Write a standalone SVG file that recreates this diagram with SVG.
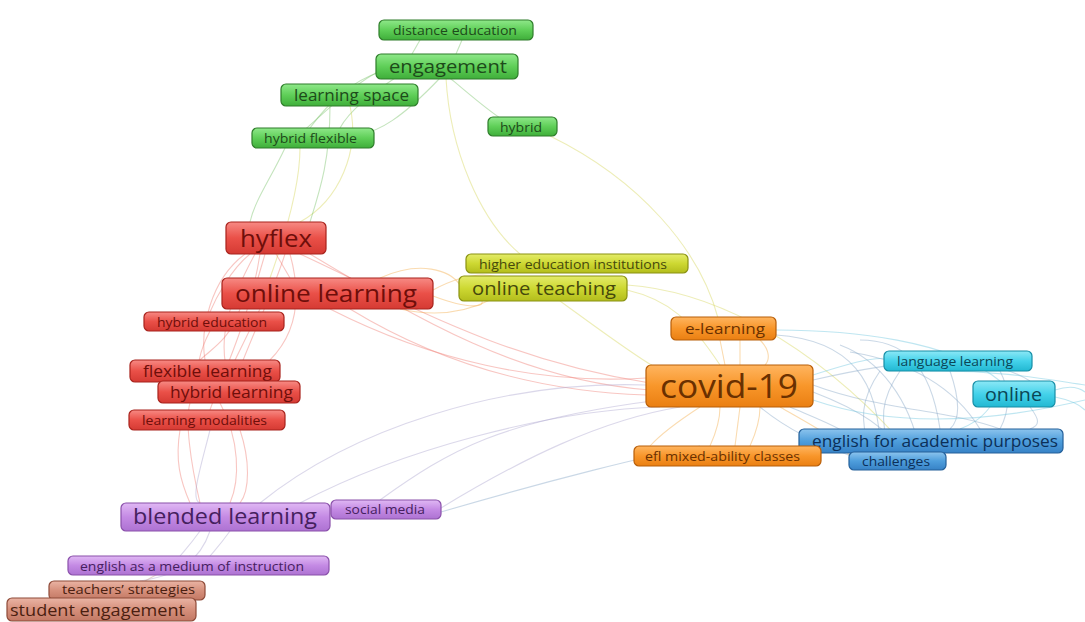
<svg xmlns="http://www.w3.org/2000/svg" width="1085" height="622" viewBox="0 0 1085 622">
<defs>
<linearGradient id="gG" x1="0" y1="0" x2="0" y2="1"><stop offset="0" stop-color="#8fe88a"/><stop offset="0.5" stop-color="#5fcf58"/><stop offset="1" stop-color="#3fae3a"/></linearGradient>
<linearGradient id="gR" x1="0" y1="0" x2="0" y2="1"><stop offset="0" stop-color="#f78a84"/><stop offset="0.5" stop-color="#ea5048"/><stop offset="1" stop-color="#d53a33"/></linearGradient>
<linearGradient id="gY" x1="0" y1="0" x2="0" y2="1"><stop offset="0" stop-color="#e4ec6a"/><stop offset="0.5" stop-color="#cdd832"/><stop offset="1" stop-color="#b3bd1c"/></linearGradient>
<linearGradient id="gO" x1="0" y1="0" x2="0" y2="1"><stop offset="0" stop-color="#ffb560"/><stop offset="0.5" stop-color="#f8962a"/><stop offset="1" stop-color="#ea7f12"/></linearGradient>
<linearGradient id="gC" x1="0" y1="0" x2="0" y2="1"><stop offset="0" stop-color="#8ce8f6"/><stop offset="0.5" stop-color="#44d2ea"/><stop offset="1" stop-color="#22b8d2"/></linearGradient>
<linearGradient id="gB" x1="0" y1="0" x2="0" y2="1"><stop offset="0" stop-color="#8cc4ee"/><stop offset="0.5" stop-color="#4e9edc"/><stop offset="1" stop-color="#3782c6"/></linearGradient>
<linearGradient id="gP" x1="0" y1="0" x2="0" y2="1"><stop offset="0" stop-color="#e0b8f4"/><stop offset="0.5" stop-color="#c48ae4"/><stop offset="1" stop-color="#ad72d2"/></linearGradient>
<linearGradient id="gS" x1="0" y1="0" x2="0" y2="1"><stop offset="0" stop-color="#eab4a4"/><stop offset="0.5" stop-color="#d6907c"/><stop offset="1" stop-color="#c27864"/></linearGradient>
</defs>
<style>
text{font-family:"Open Sans","Noto Sans","DejaVu Sans",sans-serif;text-anchor:middle}
rect{stroke-width:1.2}
.G rect{fill:url(#gG);stroke:#2e7d2a}.G text{fill:#1d4a1a}
.R rect{fill:url(#gR);stroke:#a8221c}.R text{fill:#6e0e0a}
.Y rect{fill:url(#gY);stroke:#8a9212}.Y text{fill:#45480c}
.O rect{fill:url(#gO);stroke:#b85e08}.O text{fill:#6a3000}
.C rect{fill:url(#gC);stroke:#168ea6}.C text{fill:#0b4656}
.B rect{fill:url(#gB);stroke:#24609a}.B text{fill:#0c2f58}
.P rect{fill:url(#gP);stroke:#8a50aa}.P text{fill:#45205e}
.S rect{fill:url(#gS);stroke:#8e4a38}.S text{fill:#4a1e10}
#edges path{fill:none;stroke-width:1.1;opacity:0.45}
.eg{stroke:#7cc46c}.er{stroke:#f08078}.ey{stroke:#d6d860}.eo{stroke:#f4b050}.ec{stroke:#70c8e0}.eb{stroke:#8aa8c8}.ep{stroke:#b0a8d0}.es{stroke:#c8a090}
</style>
<rect width="1085" height="622" fill="#ffffff"/>
<g id="edges">
<path class="eg" d="M420 40 L412 54"/>
<path class="eg" d="M462 40 L456 54"/>
<path class="eg" d="M380 72 C355 80 330 100 310 128"/>
<path class="eg" d="M385 68 C340 90 300 140 280 148"/>
<path class="eg" d="M395 78 C370 95 350 110 340 128"/>
<path class="eg" d="M450 78 C470 95 485 108 500 118"/>
<path class="ey" d="M446 78 C450 150 480 220 520 254"/>
<path class="eg" d="M440 78 C400 120 380 130 360 135"/>
<path class="ey" d="M550 136 C640 180 700 250 718 318"/>
<path class="eg" d="M285 148 C270 180 255 200 250 222"/>
<path class="ey" d="M350 106 C360 150 340 200 300 222"/>
<path class="eg" d="M330 106 C330 160 320 190 310 222"/>
<path class="ey" d="M300 148 C300 190 280 250 270 278"/>
<path class="er" d="M276 254 L290 278"/>
<path class="er" d="M265 254 L258 278"/>
<path class="er" d="M250 254 C230 270 215 300 210 312"/>
<path class="er" d="M245 254 C210 280 200 330 205 360"/>
<path class="er" d="M255 254 C230 300 215 340 230 381"/>
<path class="er" d="M290 254 C300 290 300 330 270 360"/>
<path class="er" d="M285 254 C270 300 250 340 235 381"/>
<path class="er" d="M260 254 C250 320 220 380 210 410"/>
<path class="er" d="M300 254 C400 300 500 360 650 383"/>
<path class="er" d="M310 254 C420 320 520 380 650 390"/>
<path class="er" d="M330 309 C430 360 540 385 646 378"/>
<path class="er" d="M350 309 C450 370 550 392 646 395"/>
<path class="eo" d="M433 290 C470 270 500 270 520 290"/>
<path class="eo" d="M433 296 C470 310 500 310 470 290"/>
<path class="eo" d="M380 278 C420 260 450 270 460 285"/>
<path class="eo" d="M400 309 C440 318 470 310 490 300"/>
<path class="er" d="M240 309 C230 340 210 350 200 360"/>
<path class="er" d="M260 309 C240 350 230 370 225 381"/>
<path class="er" d="M210 331 C200 350 195 370 200 382"/>
<path class="er" d="M190 403 C185 420 190 460 200 503"/>
<path class="er" d="M220 403 C240 440 240 480 230 503"/>
<path class="er" d="M180 430 C175 460 180 480 190 503"/>
<path class="er" d="M240 430 C250 460 250 490 240 503"/>
<path class="ep" d="M210 430 C200 470 190 500 200 503"/>
<path class="ey" d="M627 290 C670 300 690 320 720 365"/>
<path class="ey" d="M560 301 C600 330 640 360 660 370"/>
<path class="ey" d="M627 285 C700 290 800 330 900 440"/>
<path class="eo" d="M720 340 L725 365"/>
<path class="eo" d="M740 340 L740 365"/>
<path class="eo" d="M760 340 C770 350 770 360 765 365"/>
<path class="ec" d="M776 330 C850 330 950 340 1000 381"/>
<path class="eb" d="M776 335 C850 340 880 380 880 452"/>
<path class="eb" d="M813 380 C900 360 980 350 1030 381"/>
<path class="eb" d="M813 385 C880 410 950 410 1000 429"/>
<path class="eb" d="M813 392 C860 410 890 430 900 452"/>
<path class="ec" d="M813 375 C860 360 880 355 900 360"/>
<path class="eb" d="M790 407 C820 420 850 430 870 452"/>
<path class="eb" d="M760 407 C800 440 840 450 860 460"/>
<path class="eb" d="M880 371 C860 400 860 420 870 452"/>
<path class="eb" d="M900 371 C880 400 880 420 890 452"/>
<path class="eb" d="M950 371 C960 400 960 420 950 429"/>
<path class="eb" d="M1000 371 C1010 390 1010 410 1000 429"/>
<path class="ec" d="M990 407 C980 420 970 425 960 429"/>
<path class="eb" d="M1030 407 C1040 420 1040 425 1030 429"/>
<path class="ec" d="M1055 390 C1070 385 1080 388 1085 392"/>
<path class="ec" d="M1055 397 C1070 400 1080 405 1085 410"/>
<path class="ec" d="M930 371 C1000 370 1050 380 1085 385"/>
<path class="ec" d="M813 400 C900 430 1000 420 1085 400"/>
<path class="eb" d="M860 340 C900 340 930 360 940 429"/>
<path class="eb" d="M840 345 C880 360 910 400 920 452"/>
<path class="eb" d="M850 352 C900 360 950 380 980 429"/>
<path class="eo" d="M740 407 L735 446"/>
<path class="eo" d="M720 407 C720 420 715 435 710 446"/>
<path class="eo" d="M760 407 C760 420 755 435 750 446"/>
<path class="eo" d="M700 407 C680 420 660 435 650 446"/>
<path class="eo" d="M780 407 C820 430 840 440 849 455"/>
<path class="ep" d="M260 503 C350 430 500 380 646 385"/>
<path class="ep" d="M300 503 C400 450 550 410 660 407"/>
<path class="ep" d="M441 508 C520 460 600 420 680 407"/>
<path class="ep" d="M380 500 C450 450 500 420 660 400"/>
<path class="eb" d="M441 512 C550 480 650 455 700 446"/>
<path class="ep" d="M200 531 C190 545 185 550 180 556"/>
<path class="ep" d="M230 531 C220 545 215 550 210 556"/>
<path class="ep" d="M210 531 C200 560 180 575 140 581"/>
<path class="es" d="M190 556 C170 570 140 580 120 598"/>
</g>
<g id="n-distance-education" class="G"><rect x="379" y="20" width="154" height="20" rx="5"/><text x="455" y="34.5" font-size="12.5" textLength="124" lengthAdjust="spacingAndGlyphs">distance education</text></g>
<g id="n-engagement" class="G"><rect x="376" y="54" width="142" height="25" rx="5"/><text x="448" y="72.5" font-size="18" textLength="118" lengthAdjust="spacingAndGlyphs">engagement</text></g>
<g id="n-learning-space" class="G"><rect x="281" y="84" width="137" height="22" rx="5"/><text x="351.5" y="100.5" font-size="16" textLength="115" lengthAdjust="spacingAndGlyphs">learning space</text></g>
<g id="n-hybrid-flexible" class="G"><rect x="252" y="128" width="122" height="20" rx="5"/><text x="310.5" y="142.5" font-size="13" textLength="93" lengthAdjust="spacingAndGlyphs">hybrid flexible</text></g>
<g id="n-hybrid" class="G"><rect x="488" y="117" width="69" height="19" rx="5"/><text x="521" y="131.5" font-size="13" textLength="42" lengthAdjust="spacingAndGlyphs">hybrid</text></g>
<g id="n-hyflex" class="R"><rect x="226" y="222" width="100" height="32" rx="5"/><text x="276" y="246.5" font-size="24" textLength="72" lengthAdjust="spacingAndGlyphs">hyflex</text></g>
<g id="n-online-learning" class="R"><rect x="222" y="278" width="211" height="31" rx="5"/><text x="326" y="302" font-size="24" textLength="182" lengthAdjust="spacingAndGlyphs">online learning</text></g>
<g id="n-hybrid-education" class="R"><rect x="144" y="312" width="140" height="19" rx="5"/><text x="212" y="326.5" font-size="13" textLength="110" lengthAdjust="spacingAndGlyphs">hybrid education</text></g>
<g id="n-flexible-learning" class="R"><rect x="130" y="360" width="150" height="22" rx="5"/><text x="207.5" y="376.5" font-size="15.5" textLength="129" lengthAdjust="spacingAndGlyphs">flexible learning</text></g>
<g id="n-hybrid-learning" class="R"><rect x="158" y="381" width="142" height="22" rx="5"/><text x="231.5" y="397.5" font-size="15.5" textLength="123" lengthAdjust="spacingAndGlyphs">hybrid learning</text></g>
<g id="n-learning-modalities" class="R"><rect x="129" y="410" width="156" height="20" rx="5"/><text x="204.5" y="424.5" font-size="13" textLength="125" lengthAdjust="spacingAndGlyphs">learning modalities</text></g>
<g id="n-higher-education-institutions" class="Y"><rect x="466" y="254" width="222" height="19" rx="5"/><text x="573" y="268.5" font-size="13" textLength="188" lengthAdjust="spacingAndGlyphs">higher education institutions</text></g>
<g id="n-online-teaching" class="Y"><rect x="459" y="276" width="168" height="25" rx="5"/><text x="544" y="294.5" font-size="17.5" textLength="144" lengthAdjust="spacingAndGlyphs">online teaching</text></g>
<g id="n-e-learning" class="O"><rect x="671" y="317" width="105" height="23" rx="5"/><text x="725" y="334" font-size="15" textLength="80" lengthAdjust="spacingAndGlyphs">e-learning</text></g>
<g id="n-covid-19" class="O"><rect x="646" y="365" width="167" height="42" rx="5"/><text x="729" y="397.5" font-size="32" textLength="138" lengthAdjust="spacingAndGlyphs">covid-19</text></g>
<g id="n-language-learning" class="C"><rect x="884" y="351" width="148" height="20" rx="5"/><text x="955" y="365.5" font-size="13" textLength="116" lengthAdjust="spacingAndGlyphs">language learning</text></g>
<g id="n-online" class="C"><rect x="973" y="381" width="82" height="26" rx="5"/><text x="1013.5" y="400.5" font-size="18" textLength="57" lengthAdjust="spacingAndGlyphs">online</text></g>
<g id="n-english-for-academic-purposes" class="B"><rect x="799" y="429" width="264" height="24" rx="5"/><text x="935" y="447" font-size="16" textLength="246" lengthAdjust="spacingAndGlyphs">english for academic purposes</text></g>
<g id="n-efl-mixed-ability-classes" class="O"><rect x="634" y="446" width="187" height="20" rx="5"/><text x="722.5" y="460.5" font-size="13" textLength="155" lengthAdjust="spacingAndGlyphs">efl mixed-ability classes</text></g>
<g id="n-challenges" class="B"><rect x="849" y="452" width="97" height="18" rx="5"/><text x="896" y="466" font-size="13" textLength="68" lengthAdjust="spacingAndGlyphs">challenges</text></g>
<g id="n-blended-learning" class="P"><rect x="121" y="503" width="209" height="28" rx="5"/><text x="225" y="524" font-size="21" textLength="184" lengthAdjust="spacingAndGlyphs">blended learning</text></g>
<g id="n-social-media" class="P"><rect x="331" y="500" width="110" height="19" rx="5"/><text x="385" y="513.5" font-size="13" textLength="80" lengthAdjust="spacingAndGlyphs">social media</text></g>
<g id="n-english-as-a-medium-of-instruction" class="P"><rect x="68" y="556" width="261" height="19" rx="5"/><text x="192" y="570.5" font-size="13" textLength="224" lengthAdjust="spacingAndGlyphs">english as a medium of instruction</text></g>
<g id="n-teachers-strategies" class="S"><rect x="49" y="581" width="156" height="19" rx="5"/><text x="128.5" y="594" font-size="12" textLength="133" lengthAdjust="spacingAndGlyphs">teachers’ strategies</text></g>
<g id="n-student-engagement" class="S"><rect x="7" y="598" width="189" height="23" rx="5"/><text x="97.5" y="615.5" font-size="16" textLength="175" lengthAdjust="spacingAndGlyphs">student engagement</text></g>
</svg>
